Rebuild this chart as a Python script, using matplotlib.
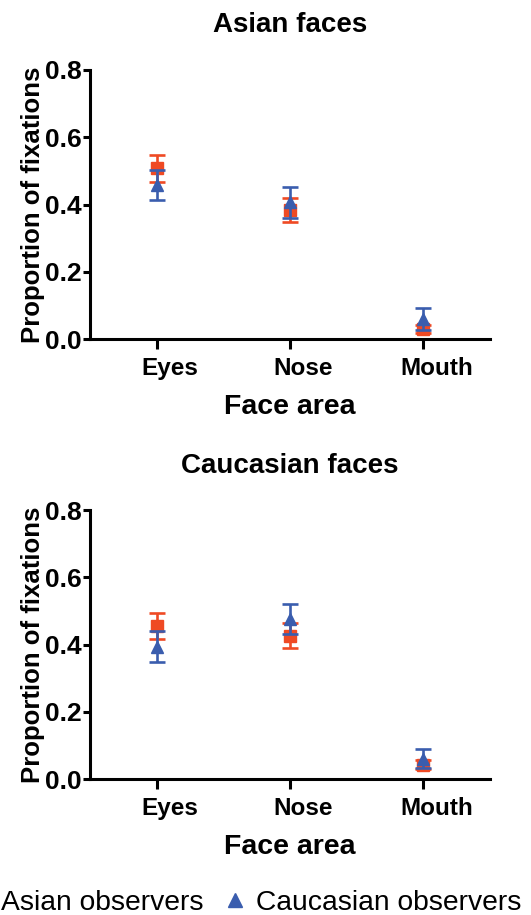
import numpy as np
import matplotlib.pyplot as plt
import matplotlib.transforms as mtransforms
from matplotlib.lines import Line2D

plt.rcParams['font.family'] = ['Liberation Sans', 'DejaVu Sans']

areas = ['Eyes', 'Nose', 'Mouth']
titles = ['Asian faces', 'Caucasian faces']

# mean proportion of fixations and error (SEM)
asian_obs_mean = [[0.508, 0.384, 0.030], [0.455, 0.426, 0.043]]
asian_obs_err = [[0.040, 0.035, 0.012], [0.038, 0.037, 0.014]]
cauc_obs_mean = [[0.458, 0.406, 0.060], [0.394, 0.477, 0.060]]
cauc_obs_err = [[0.045, 0.046, 0.033], [0.047, 0.045, 0.028]]

red = '#EF4A24'
blue = '#3A5DAE'

fig = plt.figure(figsize=(5.31, 9.15), dpi=100)
ax_pos = [[0.1695, 0.6295, 0.7533, 0.294], [0.1695, 0.1486, 0.7533, 0.294]]

x = np.arange(len(areas))
for i in range(2):
    ax = fig.add_axes(ax_pos[i])
    ax.errorbar(x, asian_obs_mean[i], yerr=asian_obs_err[i], fmt='s', color=red,
                ms=8.5, elinewidth=1.9, capsize=5.5, capthick=1.9, zorder=3)
    ax.errorbar(x, cauc_obs_mean[i], yerr=cauc_obs_err[i], fmt='^', color=blue,
                ms=9, elinewidth=1.9, capsize=5.5, capthick=1.9, zorder=4)
    ax.set_xlim(-0.5, 2.5)
    ax.set_ylim(0, 0.8)
    ax.set_yticks([0.0, 0.2, 0.4, 0.6, 0.8])
    ax.set_yticklabels(['0.0', '0.2', '0.4', '0.6', '0.8'])
    ax.set_xticks(x)
    ax.set_xticklabels(areas)
    for s in ['top', 'right']:
        ax.spines[s].set_visible(False)
    for s in ['left', 'bottom']:
        ax.spines[s].set_linewidth(2.2)
    ax.tick_params(axis='y', length=5, width=2.2, labelsize=19, pad=1)
    ax.tick_params(axis='x', length=7, width=2.2, labelsize=17.5, pad=6)
    # x labels sit a bit right of their ticks in the original
    shift = mtransforms.ScaledTranslation(13 / 100, 0, fig.dpi_scale_trans)
    for lab in ax.get_xticklabels():
        lab.set_transform(lab.get_transform() + shift)
    for lab in ax.get_xticklabels() + ax.get_yticklabels():
        lab.set_fontweight('bold')
    ax.set_xlabel('Face area', fontsize=20.5, fontweight='bold', labelpad=10)
    ax.set_ylabel('Proportion of fixations', fontsize=18.5, fontweight='bold', labelpad=0)
    ax.set_title(titles[i], fontsize=20, fontweight='bold', pad=27)

handles = [Line2D([], [], ls='none', marker='s', color=red, ms=10),
           Line2D([], [], ls='none', marker='^', color=blue, ms=10)]
fig.legend(handles, ['Asian observers', 'Caucasian observers'], loc='center left',
           bbox_to_anchor=(-0.064, 0.0135), ncol=2, frameon=False, fontsize=20.3,
           handlelength=1.0, handletextpad=0.25, columnspacing=0.6,
           borderaxespad=0, borderpad=0)

fig.savefig('out.png', dpi=100)
